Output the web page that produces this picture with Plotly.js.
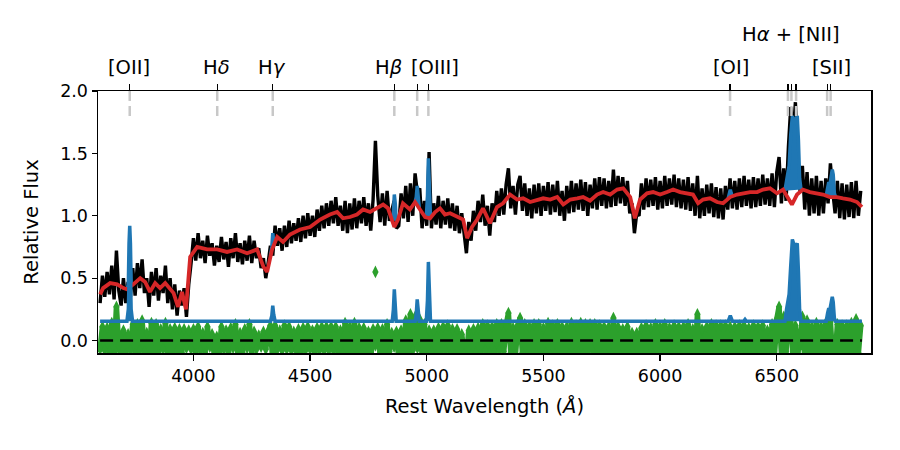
<!DOCTYPE html>
<html>
<head>
<meta charset="utf-8">
<script src="https://cdn.plot.ly/plotly-3.0.1.min.js"></script>
<style>html,body{margin:0;padding:0;background:#fff;} #chart{width:900px;height:450px;}</style>
</head>
<body>
<div id="chart"></div>
<script>
// Observed spectrum (black), sampled from 3600 A every 10 A
const fluxStart = 3600, fluxStep = 10;
const flux = [
 .30,.52,.35,.55,.37,.60,.33,.72,.40,.28,
 .50,.30,.47,.35,.58,.36,.62,.42,.65,.38,
 .50,.27,.55,.36,.58,.32,.52,.38,.60,.30,
 .50,.25,.45,.20,.40,.28,.42,.19,.45,.62,
 .82,.64,.86,.66,.80,.62,.84,.68,.78,.60,
 .76,.63,.83,.65,.79,.59,.82,.66,.86,.63,
 .78,.61,.80,.64,.84,.62,.80,.66,.74,.58,
 .66,.50,.62,.76,.68,.92,.76,.90,.72,.92,
 .75,.96,.78,.94,.80,.98,.79,1.00,.82,1.02,
 .84,1.00,.83,1.05,.88,1.08,.90,1.10,.92,1.12,
 .94,1.15,.92,1.08,.88,1.12,.86,1.10,.89,1.14,
 .90,1.12,.94,1.15,.92,1.10,.88,1.13,1.60,1.16,
 .95,1.18,.92,1.20,.96,1.04,1.12,.90,.92,1.18,
 .98,1.24,.95,1.26,1.00,1.34,1.18,1.22,.90,1.12,
 .92,1.51,.90,1.10,.93,1.16,.90,1.12,.93,1.14,
 .90,1.10,.88,1.08,.86,1.02,.86,.70,.95,.80,
 1.04,.88,1.12,.95,1.17,.92,1.08,.84,1.10,.95,
 1.20,1.00,1.22,1.01,1.25,1.38,1.06,1.24,1.01,1.25,
 1.32,1.04,1.26,1.00,1.22,.98,1.25,1.02,1.26,1.00,
 1.24,1.04,1.27,1.01,1.25,1.03,1.28,1.00,1.20,.96,
 1.24,1.02,1.28,1.03,1.26,1.05,1.29,1.04,1.27,1.00,
 1.25,1.06,1.30,1.05,1.31,1.08,1.30,1.06,1.28,1.07,
 1.37,1.08,1.32,1.10,1.31,1.08,1.28,1.02,1.10,.86,
 1.02,1.00,1.26,1.05,1.30,1.07,1.29,1.08,1.31,1.05,
 1.28,1.06,1.32,1.08,1.30,1.09,1.33,1.07,1.30,1.06,
 1.29,1.05,1.31,1.04,1.26,1.00,1.32,.98,1.22,1.00,
 1.25,1.02,1.26,.99,1.23,.98,1.22,.97,1.24,1.05,
 1.30,1.06,1.28,1.05,1.30,1.07,1.32,1.08,1.29,1.06,
 1.31,1.07,1.30,1.08,1.33,1.09,1.30,1.08,1.34,1.07,
 1.35,1.47,1.10,1.38,1.12,1.55,1.87,1.62,1.91,1.45,
 1.20,1.40,1.05,1.35,1.00,1.30,1.02,1.32,1.00,1.28,
 1.02,1.30,1.10,1.42,1.20,1.02,1.28,.98,1.26,.97,
 1.25,.99,1.27,.98,1.28,1.00,1.20
];

// Residuals (green), same sampling
const resid = [
 -.07,.11,-.08,.10,-.09,.14,-.12,.27,-.04,-.15,
 .08,-.11,.05,-.08,.13,-.11,.13,-.08,.16,-.09,
 .06,-.13,.14,-.09,.13,-.11,.09,-.07,.14,-.13,
 .09,-.14,.10,-.08,.09,-.10,.09,-.06,.08,-.07,
 .09,-.11,.11,-.08,.06,-.11,.11,-.05,.05,-.13,
 .03,-.10,.11,-.07,.08,-.12,.10,-.06,.13,-.10,
 .06,-.10,.09,-.06,.13,-.10,.07,-.07,.04,-.05,
 .07,-.07,.07,.12,-.17,.12,-.07,.08,-.08,.12,
 -.07,.11,-.08,.07,-.08,.09,-.10,.10,-.08,.11,
 -.07,.08,-.11,.10,-.08,.11,-.08,.11,-.08,.11,
 -.08,.11,-.11,.08,-.10,.14,-.13,.11,-.11,.14,
 -.11,.10,-.10,.10,-.12,.07,-.15,.09,-.04,.10,
 -.12,.09,-.16,.13,-.09,.06,-.05,.07,-.15,.08,
 -.12,.16,-.11,.21,-.08,.19,-.06,.17,-.12,.13,
 -.16,.08,-.09,.08,-.12,.10,-.14,.11,-.08,.12,
 -.12,.09,-.12,.09,-.12,.05,-.11,-.13,.08,-.11,
 .09,-.10,.10,-.11,.13,-.08,.12,-.10,.11,-.09,
 .13,-.08,.13,-.09,.12,.22,-.10,.10,-.12,.12,
 .18,-.10,.13,-.12,.11,-.14,.13,-.11,.13,-.14,
 .10,-.10,.14,-.12,.12,-.11,.13,-.13,.11,-.15,
 .11,-.11,.14,-.11,.12,-.10,.14,-.11,.13,-.13,
 .13,-.08,.13,-.13,.12,-.11,.11,-.12,.11,-.11,
 .18,-.13,.11,-.12,.09,-.12,.11,-.12,.06,-.12,
 .06,-.13,.10,-.13,.12,-.12,.10,-.11,.13,-.13,
 .11,-.12,.13,-.11,.10,-.12,.12,-.13,.11,-.13,
 .11,-.13,.13,-.13,.09,-.14,.21,-.13,.09,-.13,
 .11,-.12,.13,-.13,.12,-.12,.12,-.13,.12,-.09,
 .11,-.10,.11,-.12,.12,-.11,.12,-.11,.10,-.13,
 .12,-.12,.11,-.12,.12,-.12,.08,-.14,.13,-.13,
 .17,.27,-.11,.19,-.09,.21,.17,-.15,.12,-.10,
 -.02,.19,-.15,.16,-.19,.11,-.16,.14,-.18,.11,
 -.15,.14,-.16,.15,-.15,-.16,.13,-.17,.12,-.17,
 .12,-.14,.14,-.14,.17,-.10,.12
];
const residOutlierWave = [4780];
const residOutlier = [0.55];

// Stellar continuum model (red)
const redWave = [3600,3613,3643,3673,3700,3716,3742,3772,3793,3814,3836,3857,3879,3900,3915,3934,3951,3968,3986,4016,4059,4102,4144,4187,4230,4273,4300,4316,4337,4359,4384,4414,4457,4500,4543,4585,4616,4641,4671,4701,4727,4757,4787,4813,4834,4861,4877,4898,4928,4950,4971,4993,5014,5036,5057,5078,5100,5130,5156,5173,5194,5216,5241,5271,5301,5327,5357,5387,5413,5443,5473,5499,5529,5559,5585,5615,5645,5670,5700,5730,5756,5786,5816,5842,5872,5892,5914,5944,5970,6000,6030,6056,6086,6116,6141,6163,6184,6214,6244,6270,6300,6330,6356,6386,6416,6441,6471,6501,6527,6548,6565,6587,6612,6642,6672,6698,6728,6758,6784,6814,6844,6865];
const redFlux = [.37,.42,.46,.45,.42,.41,.45,.50,.47,.39,.46,.42,.46,.41,.38,.27,.39,.25,.67,.75,.73,.73,.71,.73,.70,.73,.59,.55,.73,.83,.79,.85,.89,.91,.97,1.01,1.03,.98,.99,1.01,1.05,1.03,1.06,1.09,1.06,.91,.97,1.10,1.05,1.11,1.05,.99,.98,1.03,1.06,1.01,1.02,.99,.97,.82,.91,.97,1.06,.94,1.07,1.10,1.17,1.13,1.14,1.11,1.13,1.14,1.13,1.15,1.09,1.13,1.14,1.15,1.12,1.17,1.19,1.17,1.21,1.22,1.15,.98,1.13,1.18,1.19,1.17,1.19,1.21,1.19,1.18,1.17,1.10,1.13,1.14,1.11,1.10,1.15,1.17,1.18,1.19,1.19,1.21,1.22,1.18,1.21,1.15,1.09,1.17,1.21,1.19,1.18,1.17,1.15,1.15,1.14,1.13,1.11,1.07];

// Total model (continuum + emission, blue) around the emission lines
const totalWave = [3715,3721,3724,3727,3730,3733,3739,null,4330,4336,4340,4344,4350,null,4852,4857,4861,4865,4869,null,4950,4955,4959,4963,4968,null,4998,5003,5007,5011,5016,null,6292,6297,6301,6305,6310,null,6535,6542,6548,6553,6560,6567,6572,6578,6583,6588,6593,6598,6604,null,6712,6718,6723,6728,6733,6738,6742,6747,6752];
const totalFlux = [.41,.45,.78,.92,.78,.45,.44,null,.68,.75,.86,.80,.80,null,.96,1.02,1.17,1.10,.96,null,1.11,1.15,1.24,1.18,1.06,null,.99,1.15,1.46,1.30,.99,null,1.14,1.18,1.21,1.18,1.15,null,1.20,1.28,1.38,1.40,1.65,1.80,1.77,1.74,1.78,1.80,1.60,1.30,1.21,null,1.16,1.22,1.27,1.25,1.32,1.37,1.33,1.18,1.15];

// Emission-line model, offset (blue, bottom)
const emisWave = [3600,3715,3721,3724,3727,3730,3733,3739,4330,4336,4340,4344,4350,4852,4857,4861,4865,4869,4950,4955,4959,4963,4968,4998,5003,5007,5011,5016,6292,6297,6301,6305,6310,6358,6364,6370,6535,6542,6548,6553,6560,6567,6572,6578,6583,6588,6593,6598,6604,6712,6718,6723,6728,6733,6738,6742,6747,6752,6865];
const emisFlux = [.155,.155,.25,.55,.68,.55,.25,.155,.155,.20,.28,.21,.155,.155,.25,.41,.30,.155,.155,.21,.33,.24,.155,.155,.32,.63,.45,.155,.155,.18,.20,.18,.155,.155,.17,.155,.155,.25,.35,.37,.60,.81,.78,.74,.76,.78,.55,.25,.155,.155,.22,.26,.25,.30,.35,.31,.18,.155,.155];

// Zero reference
const zeroWave = [3600, 6865];
const zeroLevel = [0, 0];

// Emission line positions and labels
const lineWave = [3727,4102,4340,4861,4959,5007,6300,6548,6563,6583,6716,6731];
const markerLow = 1.8, markerHigh = 2.0;
const labelText = ['[OII]','H<i>δ</i>','H<i>γ</i>','H<i>β</i>','[OIII]','[OI]','H<i>α</i> + [NII]','[SII]'];
const labelWave = [3723,4100,4336,4837,5036,6302,6560,6733];
const labelRow  = [0,0,0,0,0,0,1,0];

const xRange = [3591, 6904];
const yRange = [-0.1, 2.0];

const C_BLUE='#1f77b4', C_RED='#d62728', C_GREEN='#2ca02c';
const FONT = 'DejaVu Sans, sans-serif';

const mx = [], my = [];
lineWave.forEach(w => { mx.push(w, w, null); my.push(markerLow, markerHigh, null); });

const traces = [
  {x0: fluxStart, dx: fluxStep, y: flux, type:'scatter', mode:'lines',
   line:{color:'#000', width:3.4, simplify:false}, hoverinfo:'skip'},
  {x: totalWave, y: totalFlux, type:'scatter', mode:'lines', connectgaps:false,
   fill:'toself', fillcolor:C_BLUE,
   line:{color:C_BLUE, width:3.5}, hoverinfo:'skip'},
  {x: redWave, y: redFlux, type:'scatter', mode:'lines',
   line:{color:C_RED, width:3.8}, hoverinfo:'skip'},
  {x0: fluxStart, dx: fluxStep, y: resid, type:'scatter', mode:'lines+markers',
   line:{color:C_GREEN, width:5.5, simplify:false},
   marker:{symbol:'diamond-tall', size:9, color:C_GREEN, line:{width:0}}, hoverinfo:'skip'},
  {x: residOutlierWave, y: residOutlier, type:'scatter', mode:'markers',
   marker:{symbol:'diamond-tall', size:9, color:C_GREEN, line:{width:0}}, hoverinfo:'skip'},
  {x: emisWave, y: emisFlux, type:'scatter', mode:'lines',
   fill:'toself', fillcolor:C_BLUE,
   line:{color:C_BLUE, width:3.5}, hoverinfo:'skip'},
  {x: zeroWave, y: zeroLevel, type:'scatter', mode:'lines',
   line:{color:'#000', width:2.5, dash:'13px,7px'}, hoverinfo:'skip'},
  {x: mx, y: my, xaxis:'x2', type:'scatter', mode:'lines', connectgaps:false,
   line:{color:'#c8c8c8', width:2.5, dash:'10px,5px'}, hoverinfo:'skip'}
];

const annotations = labelText.map((t, i) => ({
  text: t, x: labelWave[i], xref:'x', y: labelRow[i] ? 1.214 : 1.088, yref:'paper',
  xanchor:'center', yanchor:'middle', showarrow:false,
  font:{family:FONT, size:19.5, color:'#000'}
}));

const layout = {
  width: 900, height: 450,
  margin: {l:98, r:29, t:91, b:97, pad:0},
  paper_bgcolor:'#fff', plot_bgcolor:'#fff',
  showlegend:false,
  font:{family:FONT, size:17, color:'#000'},
  xaxis: {range:xRange, tickmode:'array', tickvals:[4000,4500,5000,5500,6000,6500],
    ticks:'outside', ticklen:6, tickwidth:1.2, tickcolor:'#000',
    showline:true, linecolor:'#000', linewidth:1.5, mirror:true,
    showgrid:false, zeroline:false,
    tickfont:{family:FONT, size:17.5},
    title:{text:'Rest Wavelength (<i>Å</i>)', font:{family:FONT, size:19.5}, standoff:15}},
  xaxis2: {range:xRange, overlaying:'x', side:'top', tickmode:'array', tickvals:lineWave,
    ticks:'outside', ticklen:6, tickwidth:1.2, tickcolor:'#000', showticklabels:false,
    showline:false, showgrid:false, zeroline:false},
  yaxis: {range:yRange, tickmode:'array', tickvals:[0,0.5,1,1.5,2], ticktext:['0.0','0.5','1.0','1.5','2.0'],
    ticks:'outside', ticklen:5, tickwidth:1.2, tickcolor:'#000',
    showline:true, linecolor:'#000', linewidth:1.5, mirror:true,
    showgrid:false, zeroline:false,
    tickfont:{family:FONT, size:17.5},
    title:{text:'Relative Flux', font:{family:FONT, size:19.5}, standoff:16}},
  annotations: annotations
};

Plotly.newPlot('chart', traces, layout, {staticPlot:true, displayModeBar:false});
</script>
</body>
</html>
